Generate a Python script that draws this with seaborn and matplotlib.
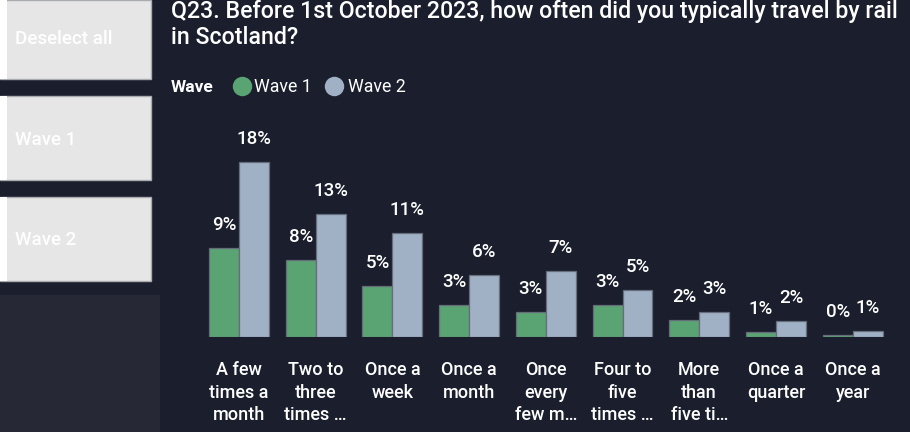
import matplotlib
matplotlib.use("Agg")
import matplotlib.pyplot as plt
from matplotlib.lines import Line2D
from matplotlib.patches import Rectangle
import seaborn as sns
import pandas as pd

# ---- data -------------------------------------------------------------
categories = [
    "A few\ntimes a\nmonth",
    "Two to\nthree\ntimes …",
    "Once a\nweek",
    "Once a\nmonth",
    "Once\nevery\nfew m…",
    "Four to\nfive\ntimes …",
    "More\nthan\nfive ti…",
    "Once a\nquarter",
    "Once a\nyear",
]
wave_1 = [9.15, 7.95, 5.25, 3.3, 2.6, 3.26, 1.75, 0.55, 0.17]
wave_2 = [18.0, 12.7, 10.7, 6.4, 6.8, 4.87, 2.57, 1.68, 0.65]
series_names = ["Wave 1", "Wave 2"]
slicer_items = ["Deselect all", "Wave 1", "Wave 2"]

title_lines = [
    "Q23. Before 1st October 2023, how often did you typically travel by rail",
    "in Scotland?",
]

# ---- style ------------------------------------------------------------
BG = "#1a1e2d"
PANEL = "#262935"
GREEN = "#5aa372"
BLUE = "#a0b0c5"
EDGE = "#656c7a"
FONT = "Roboto"

sns.set_theme(style="white")
plt.rcParams["font.family"] = [FONT, "DejaVu Sans"]

W, H = 910, 432
fig = plt.figure(figsize=(W / 100, H / 100), dpi=100, facecolor=BG)


def fx(px):
    return px / W


def fy(py):
    return 1 - py / H


# ---- slicer column on the left ------------------------------------------
for top, bottom in [(0, 79), (96, 180), (197, 281)]:
    fig.add_artist(Rectangle((fx(0), fy(bottom)), fx(151), (bottom - top) / H,
                             transform=fig.transFigure, facecolor="#e6e6e6",
                             edgecolor="#a9abb0", linewidth=1.0))
    fig.add_artist(Rectangle((fx(0), fy(bottom)), fx(6.5), (bottom - top) / H,
                             transform=fig.transFigure, facecolor="white",
                             edgecolor="none"))
for label, base in zip(slicer_items, [44, 145, 245]):
    fig.text(fx(15), fy(base), label, color="white", fontsize=13.5,
             fontweight="medium", va="baseline", ha="left")
fig.add_artist(Rectangle((fx(0), 0), fx(160), (H - 295) / H,
                         transform=fig.transFigure, facecolor=PANEL,
                         edgecolor="none"))

# ---- title & legend ----------------------------------------------------
fig.text(fx(171), fy(18), title_lines[0], color="white", fontsize=16.7,
         fontweight="medium", va="baseline", ha="left")
fig.text(fx(171), fy(44), title_lines[1], color="white", fontsize=16.7,
         fontweight="medium", va="baseline", ha="left")

fig.text(fx(171), fy(92), "Wave", color="white", fontsize=12.5,
         fontweight="bold", va="baseline", ha="left")
for name, color, cx, tx in zip(series_names, [GREEN, BLUE], [242, 334], [254, 348]):
    fig.add_artist(Line2D([fx(cx)], [fy(85.5)], marker="o", markersize=14,
                          markerfacecolor=color, markeredgewidth=0,
                          linestyle="none", transform=fig.transFigure))
    fig.text(fx(tx), fy(92), name, color="white", fontsize=12.8,
             va="baseline", ha="left")

# ---- bars --------------------------------------------------------------
df = pd.DataFrame({
    "category": categories * 2,
    "wave": [series_names[0]] * len(categories) + [series_names[1]] * len(categories),
    "value": wave_1 + wave_2,
})

px_per_unit = 9.72
ymax = 20
ax_left, ax_right = 200.65, 891.0
ax_bottom = 337
ax_h = ymax * px_per_unit
ax = fig.add_axes([fx(ax_left), fy(ax_bottom), fx(ax_right - ax_left), ax_h / H])
ax.set_facecolor("none")

sns.barplot(data=df, x="category", y="value", hue="wave", order=categories,
            hue_order=series_names, palette=[GREEN, BLUE], width=0.78,
            edgecolor=EDGE, linewidth=0.9, saturation=1, legend=False, ax=ax)

ax.set_xlim(-0.5, len(categories) - 0.5)
ax.set_ylim(0, ymax)

for container in ax.containers:
    labels = [f"{int(b.get_height() + 0.5)}%" for b in container]
    ax.bar_label(container, labels=labels, padding=10, color="white",
                 fontsize=13.5, fontweight="medium", clip_on=False)

ax.set_xlabel("")
ax.set_ylabel("")
ax.set_yticks([])
ax.tick_params(axis="x", length=0, pad=17)
ax.set_xticks(range(len(categories)))
ax.set_xticklabels(categories, color="white", fontsize=13,
                   fontweight="medium", linespacing=1.35)
for side in ax.spines.values():
    side.set_visible(False)

fig.savefig("out.png", dpi=100, facecolor=BG)
